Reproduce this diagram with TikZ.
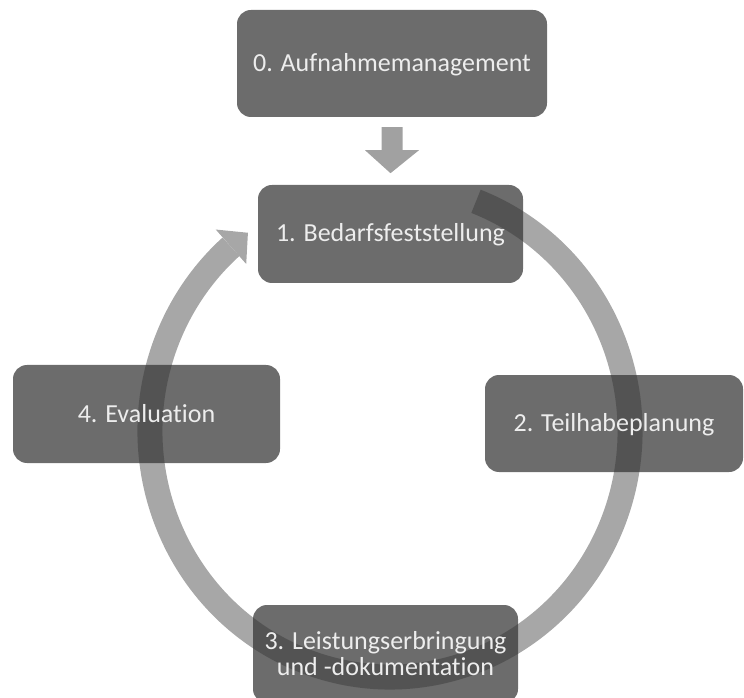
\documentclass[tikz,border=0pt]{standalone}
\usepackage{fontspec}
\setmainfont{Carlito}[Ligatures={NoCommon,NoRare,NoContextual}]
\usetikzlibrary{calc}
\definecolor{boxfill}{gray}{0.2}
\definecolor{ringcol}{gray}{0.655}
\definecolor{arrcol}{gray}{0.63}
\definecolor{txtcol}{gray}{0.93}
\begin{document}
\begin{tikzpicture}[x=1pt,y=1pt,
  stage/.style={rectangle, rounded corners=14pt, fill=boxfill, fill opacity=0.72,
    text opacity=1, text=txtcol, font=\fontsize{26}{26}\selectfont, align=center,
    inner sep=0pt, minimum width=265pt, minimum height=98pt},
  oneline/.style={text height=22pt, text depth=6pt},
  ringline/.style={ringcol, line width=25pt},
  blockarrow/.style={fill=arrcol}]
\useasboundingbox (0,0) rectangle (744,697);
\clip (0,0) rectangle (744,697);
\coordinate (c) at (390,266);
% circular arrow (drawn first, boxes lie over it)
\draw[ringline] ($(c)+(69:240pt and 246pt)$)
  arc[start angle=69, end angle=-228.5, x radius=240, y radius=246];
\fill[ringcol] ($(c)+(131.5:263pt and 269pt)$) -- ($(c)+(126.3:240pt and 246pt)$)
  -- ($(c)+(131.5:217pt and 223pt)$) -- cycle;
% boxes
\node[stage, oneline, minimum width=310pt, minimum height=107pt] (b0) at (392,633.5) {0. Aufnahmemanagement};
\node[stage, oneline] (b1) at (390.5,463) {1. Bedarfsfeststellung};
\node[stage, oneline, minimum width=258pt, minimum height=97pt] (b2) at (614,273.5) {2. Teilhabeplanung};
\node[stage] (b3) at (385.5,43) {3. Leistungserbringung\\und -dokumentation};
\node[stage, oneline, minimum width=267pt] (b4) at (146.5,283) {4. Evaluation};
% block arrow from b0 to b1
\coordinate (tip) at ($(b1.north)+(0,12)$);
\fill[blockarrow] ($(b0.south)+(-10.5,-10)$) -- ($(b0.south)+(10.5,-10)$)
  -- ($(b0.south)+(10.5,-33)$) -- ($(b0.south)+(27,-33)$) -- (tip |- {$(b0.south)+(0,-56)$})
  -- ($(b0.south)+(-27,-33)$) -- ($(b0.south)+(-10.5,-33)$) -- cycle;
\end{tikzpicture}
\end{document}
